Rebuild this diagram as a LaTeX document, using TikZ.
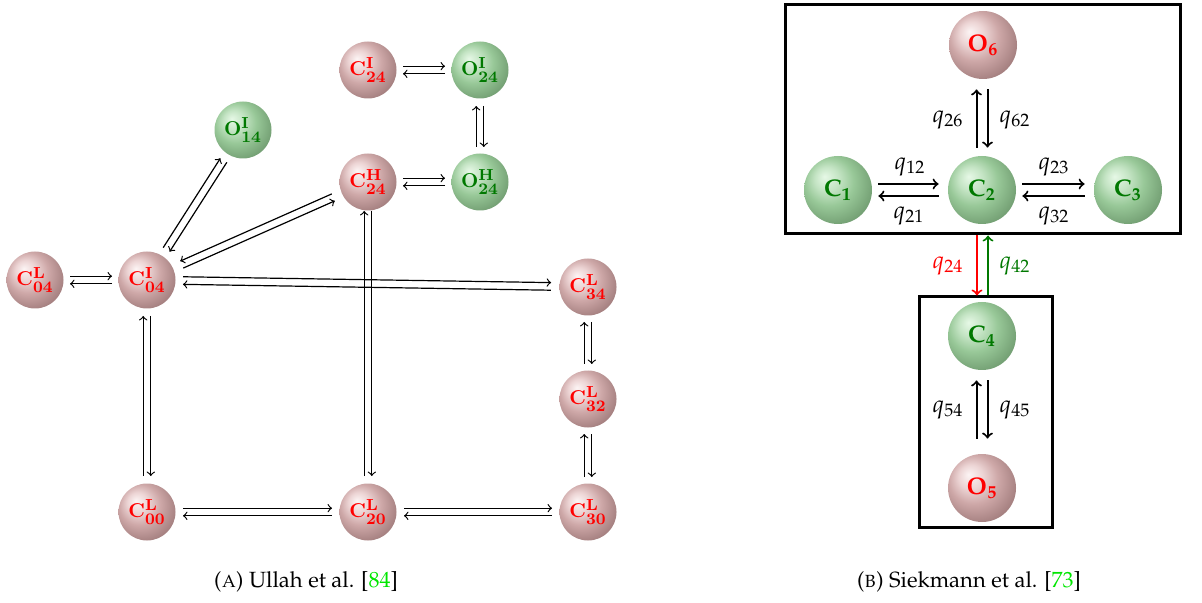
\documentclass[tikz,border=0pt]{standalone}
\usepackage[T1]{fontenc}
\usepackage{mathpazo}
\usetikzlibrary{calc,shadings}
\DeclareMathAlphabet{\mathcm}{OT1}{cmr}{bx}{n}
\definecolor{pk0}{RGB}{252,244,244}
\definecolor{pk1}{RGB}{236,212,212}
\definecolor{pk2}{RGB}{206,168,168}
\definecolor{pk3}{RGB}{165,128,128}
\definecolor{pk4}{RGB}{95,66,66}
\definecolor{gr0}{RGB}{230,248,230}
\definecolor{gr1}{RGB}{196,228,196}
\definecolor{gr2}{RGB}{152,200,152}
\definecolor{gr3}{RGB}{116,160,116}
\definecolor{gr4}{RGB}{62,100,62}
\pgfdeclareradialshading{pinkball}{\pgfqpoint{-10bp}{10bp}}{%
  color(0bp)=(pk0); color(9bp)=(pk1); color(18bp)=(pk2); color(30bp)=(pk3); color(50bp)=(pk4)}
\pgfdeclareradialshading{greenball}{\pgfqpoint{-10bp}{10bp}}{%
  color(0bp)=(gr0); color(9bp)=(gr1); color(18bp)=(gr2); color(30bp)=(gr3); color(50bp)=(gr4)}
\definecolor{dgreen}{RGB}{0,120,0}
\definecolor{citegreen}{RGB}{0,230,0}
% double arrow pair: #1 from, #2 to, #3 gap at #1, #4 gap at #2, #5 angle, #6 opposite
\newcommand\dbl[6]{%
  \draw[arrA] ($(#1)!#3!(#2)!1.9pt!#5:(#2)$) -- ($(#2)!#4!(#1)!1.9pt!#6:(#1)$);
  \draw[arrA] ($(#2)!#4!(#1)!1.9pt!#5:(#1)$) -- ($(#1)!#3!(#2)!1.9pt!#6:(#2)$);
}
\begin{document}
\begin{tikzpicture}[x=0.5pt,y=-0.5pt,
  ballA/.style={circle, minimum size=28.5pt, inner sep=0pt, font=\normalsize},
  pinkA/.style={ballA, shading=pinkball, text=red},
  greenA/.style={ballA, shading=greenball, text=dgreen},
  ballB/.style={circle, minimum size=34pt, inner sep=0pt, font=\large},
  pinkB/.style={ballB, shading=pinkball, text=red},
  greenB/.style={ballB, shading=greenball, text=dgreen},
  arrA/.style={->, line width=0.6pt},
  arrB/.style={->, line width=1pt},
  boxB/.style={draw, line width=1.5pt, inner sep=0pt},
  qlab/.style={font=\large, inner sep=0pt},
  captext/.style={font=\fontsize{11}{13}\selectfont, anchor=base, inner sep=0pt},
]
\useasboundingbox (0,0) rectangle (1202,603);

% ---------- (A) ----------
\node[pinkA]  (c04l) at (35,280)  {$\mathcm{C}^{\mathcm{L}}_{\mathcm{04}}$};
\node[pinkA]  (c04i) at (147,280) {$\mathcm{C}^{\mathcm{I}}_{\mathcm{04}}$};
\node[greenA] (o14i) at (243,130) {$\mathcm{O}^{\mathcm{I}}_{\mathcm{14}}$};
\node[pinkA]  (c24i) at (368,70)  {$\mathcm{C}^{\mathcm{I}}_{\mathcm{24}}$};
\node[greenA] (o24i) at (480,70)  {$\mathcm{O}^{\mathcm{I}}_{\mathcm{24}}$};
\node[pinkA]  (c24h) at (368,182) {$\mathcm{C}^{\mathcm{H}}_{\mathcm{24}}$};
\node[greenA] (o24h) at (480,182) {$\mathcm{O}^{\mathcm{H}}_{\mathcm{24}}$};
\node[pinkA]  (c34l) at (588,287) {$\mathcm{C}^{\mathcm{L}}_{\mathcm{34}}$};
\node[pinkA]  (c32l) at (588,399) {$\mathcm{C}^{\mathcm{L}}_{\mathcm{32}}$};
\node[pinkA]  (c00l) at (147,512) {$\mathcm{C}^{\mathcm{L}}_{\mathcm{00}}$};
\node[pinkA]  (c20l) at (368,512) {$\mathcm{C}^{\mathcm{L}}_{\mathcm{20}}$};
\node[pinkA]  (c30l) at (588,512) {$\mathcm{C}^{\mathcm{L}}_{\mathcm{30}}$};

\dbl{c04l}{c04i}{17.5pt}{17.5pt}{90}{-90}
\dbl{c04i}{o14i}{18pt}{18pt}{90}{-90}
\dbl{c04i}{c24h}{19pt}{19pt}{-90}{90}
\dbl{c24i}{o24i}{17.5pt}{17.5pt}{90}{-90}
\dbl{c24h}{o24h}{17.5pt}{17.5pt}{90}{-90}
\dbl{o24i}{o24h}{18pt}{17.5pt}{90}{-90}
\dbl{c04i}{c34l}{18pt}{18.5pt}{90}{-90}
\dbl{c04i}{c00l}{18pt}{18pt}{90}{-90}
\dbl{c24h}{c20l}{14.5pt}{18pt}{90}{-90}
\dbl{c34l}{c32l}{17.5pt}{17.5pt}{90}{-90}
\dbl{c32l}{c30l}{17.5pt}{17.5pt}{90}{-90}
\dbl{c00l}{c20l}{18pt}{18pt}{90}{-90}
\dbl{c20l}{c30l}{18pt}{18pt}{90}{-90}

\node[captext] (capA) at (306,587) {(\textsc{a}) Ullah et al. [\textcolor{citegreen}{84}]};

% ---------- (B) ----------
\node[boxB, minimum width=197.5pt, minimum height=114.5pt] (topbox) at (982.5,119.5) {};
\node[boxB, minimum width=66.5pt, minimum height=115pt] (botbox) at (985.5,412) {};

\node[pinkB]  (o6) at (983,45)  {$\mathbf{O_6}$};
\node[greenB] (c1) at (838,190) {$\mathbf{C_1}$};
\node[greenB] (c2) at (982,190) {$\mathbf{C_2}$};
\node[greenB] (c3) at (1128,190) {$\mathbf{C_3}$};
\node[greenB] (c4) at (982,336) {$\mathbf{C_4}$};
\node[pinkB]  (o5) at (982,488) {$\mathbf{O_5}$};

\draw[arrB, shorten <=3pt, shorten >=4.5pt] ([yshift=3pt]c1.east) -- ([yshift=3pt]c2.west);
\draw[arrB, shorten <=4.5pt, shorten >=3pt] ([yshift=-3pt]c2.west) -- ([yshift=-3pt]c1.east);
\draw[arrB, shorten <=3pt, shorten >=4.5pt] ([yshift=3pt]c2.east) -- ([yshift=3pt]c3.west);
\draw[arrB, shorten <=4.5pt, shorten >=3pt] ([yshift=-3pt]c3.west) -- ([yshift=-3pt]c2.east);
\draw[arrB, shorten <=4pt, shorten >=5pt] ([xshift=-2.75pt]c2.north) -- ([xshift=-2.75pt]c2.north |- o6.south);
\draw[arrB, shorten <=5pt, shorten >=4pt] ([xshift=2.75pt]c2.north |- o6.south) -- ([xshift=2.75pt]c2.north);
\draw[arrB, shorten <=7.5pt, shorten >=5pt] ([xshift=-2.75pt]c4.south |- o5.north) -- ([xshift=-2.75pt]c4.south);
\draw[arrB, shorten <=5pt, shorten >=7.5pt] ([xshift=2.75pt]c4.south) -- ([xshift=2.75pt]c4.south |- o5.north);
\draw[arrB, red] ([xshift=-2.75pt]topbox.south) -- ([xshift=-2.75pt]topbox.south |- botbox.north);
\draw[arrB, dgreen] ([xshift=2.75pt]topbox.south |- botbox.north) -- ([xshift=2.75pt]topbox.south);

\node[qlab] (l12) at (910,167) {$q_{12}$};
\node[qlab] (l21) at (909,216) {$q_{21}$};
\node[qlab] (l23) at (1054,167) {$q_{23}$};
\node[qlab] (l32) at (1054,216) {$q_{32}$};
\node[qlab] (l26) at (948,120) {$q_{26}$};
\node[qlab] (l62) at (1015,120) {$q_{62}$};
\node[qlab, text=red] (l24) at (948,266) {$q_{24}$};
\node[qlab, text=dgreen] (l42) at (1015,266) {$q_{42}$};
\node[qlab] (l54) at (948,410) {$q_{54}$};
\node[qlab] (l45) at (1015,410) {$q_{45}$};

\node[captext] (capB) at (969,587) {(\textsc{b}) Siekmann et al. [\textcolor{citegreen}{73}]};
\end{tikzpicture}
\end{document}
